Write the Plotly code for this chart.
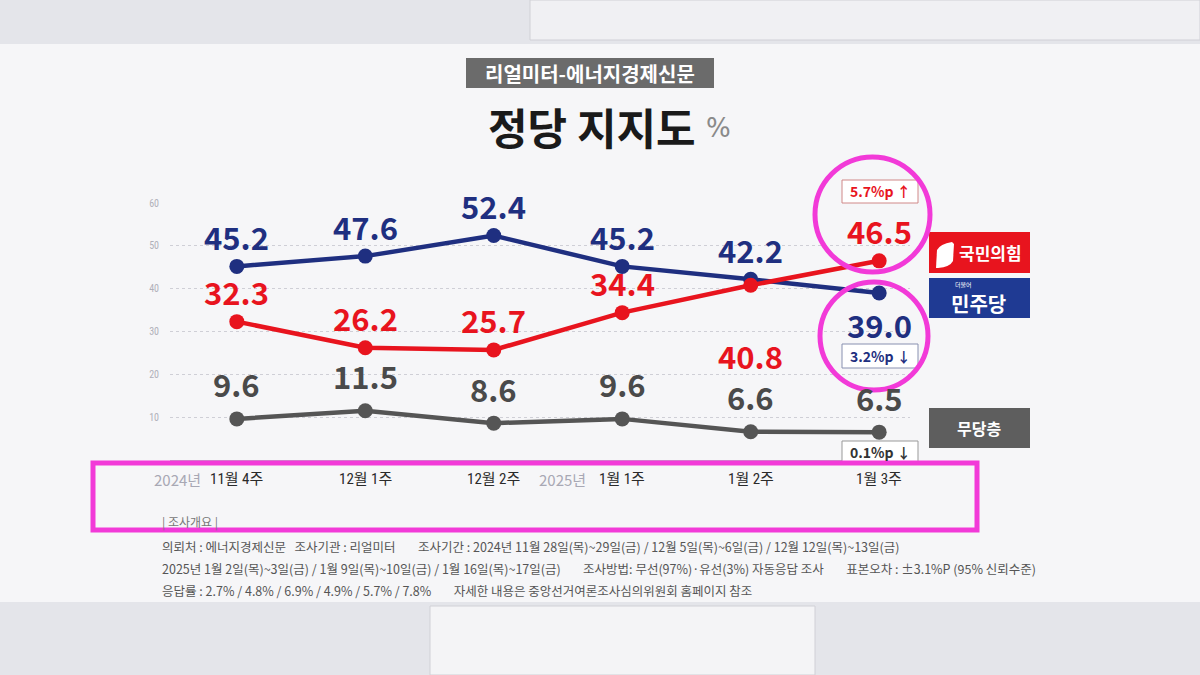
import plotly.graph_objects as go

categories = ["2024년 11월 4주", "12월 1주", "12월 2주", "2025년 1월 1주", "1월 2주", "1월 3주"]
year_parts = ["2024년", "", "", "2025년", "", ""]
month_parts = ["11월 4주", "12월 1주", "12월 2주", "1월 1주", "1월 2주", "1월 3주"]
minju = [45.2, 47.6, 52.4, 45.2, 42.2, 39.0]
ppp = [32.3, 26.2, 25.7, 34.4, 40.8, 46.5]
none_party = [9.6, 11.5, 8.6, 9.6, 6.6, 6.5]
ppp_label_pos = ["above", "above", "above", "above", "below", "above"]
y_ticks = [10, 20, 30, 40, 50, 60]

W, H = 1200, 675
L, R, T, B = 170, 290, 203, 215
PW, PH = W - L - R, H - T - B

def px(x):
    return (x - L) / PW

def py(y):
    return 1 - (y - T) / PH

KR = "Noto Sans CJK KR"
BLUE = "#1f2f80"
RED = "#e8141e"
GRAY = "#555555"
MAG = "#f23ad8"

xs = list(range(len(categories)))
fig = go.Figure()
fig.add_trace(go.Scatter(x=xs, y=minju, mode="lines+markers", name="민주당",
                         line=dict(color=BLUE, width=4.5), marker=dict(size=15, color=BLUE)))
fig.add_trace(go.Scatter(x=xs, y=ppp, mode="lines+markers", name="국민의힘",
                         line=dict(color=RED, width=4.5), marker=dict(size=15, color=RED)))
fig.add_trace(go.Scatter(x=xs, y=none_party, mode="lines+markers", name="무당층",
                         line=dict(color=GRAY, width=4.5), marker=dict(size=15, color=GRAY)))

shapes = []
ann = []

def txt(x, y, text, size, color, family=KR, xanchor="center"):
    ann.append(dict(xref="paper", yref="paper", x=px(x), y=py(y), text=text, showarrow=False,
                    xanchor=xanchor, yanchor="middle", font=dict(family=family, size=size, color=color)))

# background panels
shapes.append(dict(type="rect", xref="paper", yref="paper", x0=px(0), x1=px(1200), y0=py(0), y1=py(44),
                   fillcolor="#e4e5ea", line=dict(width=0), layer="below"))
shapes.append(dict(type="rect", xref="paper", yref="paper", x0=px(0), x1=px(1200), y0=py(602), y1=py(675),
                   fillcolor="#e4e5ea", line=dict(width=0), layer="below"))
shapes.append(dict(type="rect", xref="paper", yref="paper", x0=px(430), x1=px(815), y0=py(606), y1=py(675),
                   fillcolor="#f4f4f6", line=dict(color="#d0d0d6", width=1), layer="below"))
shapes.append(dict(type="rect", xref="paper", yref="paper", x0=px(530), x1=px(1200), y0=py(0), y1=py(40),
                   fillcolor="#f0f0f3", line=dict(color="#d0d0d6", width=1), layer="below"))
shapes.append(dict(type="rect", xref="paper", yref="paper", x0=px(45), x1=px(1200), y0=py(44), y1=py(602),
                   fillcolor="#f6f6f8", line=dict(width=0), layer="below"))

# title
shapes.append(dict(type="rect", xref="paper", yref="paper", x0=px(466), x1=px(714), y0=py(58), y1=py(88),
                   fillcolor="#6b6b6b", line=dict(width=0)))
txt(590, 73, "<b>리얼미터-에너지경제신문</b>", 20, "white")
txt(592, 126, "<b>정당 지지도</b>", 43, "#1a1a1a")
txt(718, 128, "%", 26, "#8a8a8a", family="DejaVu Sans")

# data labels
for i, v in enumerate(minju):
    ann.append(dict(x=i, y=v, text=f"<b>{v:.1f}</b>", showarrow=False, xanchor="center", yanchor="middle",
                    yshift=(-32 if i == 5 else 30), font=dict(family=KR, size=31, color=BLUE)))
for i, v in enumerate(ppp):
    ann.append(dict(x=i, y=v, text=f"<b>{v:.1f}</b>", showarrow=False, xanchor="center", yanchor="middle",
                    yshift=(30 if ppp_label_pos[i] == "above" else -70),
                    font=dict(family=KR, size=31, color=RED)))
for i, v in enumerate(none_party):
    ann.append(dict(x=i, y=v, text=f"<b>{v:.1f}</b>", showarrow=False, xanchor="center", yanchor="middle",
                    yshift=35, font=dict(family=KR, size=31, color="#4a4a4a")))

# change boxes
def change_box(y0, y1, text, color, border):
    shapes.append(dict(type="rect", xref="paper", yref="paper", x0=px(842), x1=px(918), y0=py(y1), y1=py(y0),
                       fillcolor="white", line=dict(color=border, width=1)))
    txt(880, (y0 + y1) / 2, f"<b>{text}</b>", 14, color)

change_box(180, 203, "5.7%p ↑", RED, "#d08888")
change_box(344, 368, "3.2%p ↓", BLUE, "#8890b0")
change_box(441, 463, "0.1%p ↓", "#333333", "#999999")

# legend boxes
shapes.append(dict(type="rect", xref="paper", yref="paper", x0=px(929), x1=px(1030), y0=py(273), y1=py(232),
                   fillcolor="#e8141e", line=dict(width=0)))
shapes.append(dict(type="path", xref="paper", yref="paper",
                   path=f"M {px(936)},{py(268)} L {px(937)},{py(250)} Q {px(940)},{py(244)} {px(952)},{py(242)} L {px(954)},{py(244)} L {px(953)},{py(261)} Q {px(950)},{py(267)} {px(938)},{py(268)} Z",
                   fillcolor="white", line=dict(width=0)))
txt(990, 252, "<b>국민의힘</b>", 17, "white")
shapes.append(dict(type="rect", xref="paper", yref="paper", x0=px(929), x1=px(1030), y0=py(318), y1=py(278),
                   fillcolor="#1f3a93", line=dict(width=0)))
txt(978, 303, "<b>민주당</b>", 20, "white")
txt(963, 284, "더불어", 6, "white")
shapes.append(dict(type="rect", xref="paper", yref="paper", x0=px(929), x1=px(1030), y0=py(448), y1=py(408),
                   fillcolor="#5e5e5e", line=dict(width=0)))
txt(979, 428, "<b>무당층</b>", 16, "white")

# x labels
for i in xs:
    ann.append(dict(x=i, xref="x", yref="paper", y=py(479), text=month_parts[i], showarrow=False,
                    xanchor="center", yanchor="middle",
                    font=dict(family="Roboto Condensed, " + KR, size=15, color="#2a2a2a")))
    if year_parts[i]:
        ann.append(dict(x=i, xref="x", yref="paper", y=py(479), text=year_parts[i], showarrow=False,
                        xanchor="right", yanchor="middle", xshift=-34,
                        font=dict(family=KR, size=15, color="#a8a8b4")))

# footnotes
txt(160, 522, "| 조사개요 |", 12, "#777777", xanchor="left")
foot = [
    "의뢰처 : 에너지경제신문   조사기관 : 리얼미터        조사기간 : 2024년 11월 28일(목)~29일(금) / 12월 5일(목)~6일(금) / 12월 12일(목)~13일(금)",
    "2025년 1월 2일(목)~3일(금) / 1월 9일(목)~10일(금) / 1월 16일(목)~17일(금)        조사방법: 무선(97%)·유선(3%) 자동응답 조사        표본오차 : ±3.1%P (95% 신뢰수준)",
    "응답률 : 2.7% / 4.8% / 6.9% / 4.9% / 5.7% / 7.8%        자세한 내용은 중앙선거여론조사심의위원회 홈페이지 참조",
]
for k, t in enumerate(foot):
    txt(160, 546 + 22 * k, t, 12.5, "#555555", xanchor="left")

# magenta highlight marks
shapes.append(dict(type="circle", xref="paper", yref="paper", x0=px(815), x1=px(930), y0=py(272), y1=py(157),
                   line=dict(color=MAG, width=5)))
shapes.append(dict(type="circle", xref="paper", yref="paper", x0=px(820), x1=px(928), y0=py(390), y1=py(282),
                   line=dict(color=MAG, width=5)))
shapes.append(dict(type="rect", xref="paper", yref="paper", x0=px(93), x1=px(977), y0=py(530), y1=py(463),
                   line=dict(color=MAG, width=5)))

fig.update_layout(
    width=W, height=H,
    margin=dict(l=L, r=R, t=T, b=B),
    paper_bgcolor="#f6f6f8", plot_bgcolor="rgba(0,0,0,0)",
    showlegend=False,
    shapes=shapes, annotations=ann,
    xaxis=dict(range=[-0.52, 5.24], showgrid=False, zeroline=False, showticklabels=False,
               showline=True, linecolor="#b8b8c0", linewidth=1, fixedrange=True),
    yaxis=dict(range=[0, 60], tickvals=y_ticks, showgrid=True, gridcolor="#cfcfd6", griddash="dot",
               gridwidth=1, zeroline=False, showline=False, ticks="",
               tickfont=dict(family="Roboto Condensed, DejaVu Sans", size=10, color="#b0b0b8"), ticklabelstandoff=10),
)
fig.write_html("out.html", config={"displayModeBar": False},
               post_script="document.body.style.margin='0';document.body.style.overflow='hidden';")
